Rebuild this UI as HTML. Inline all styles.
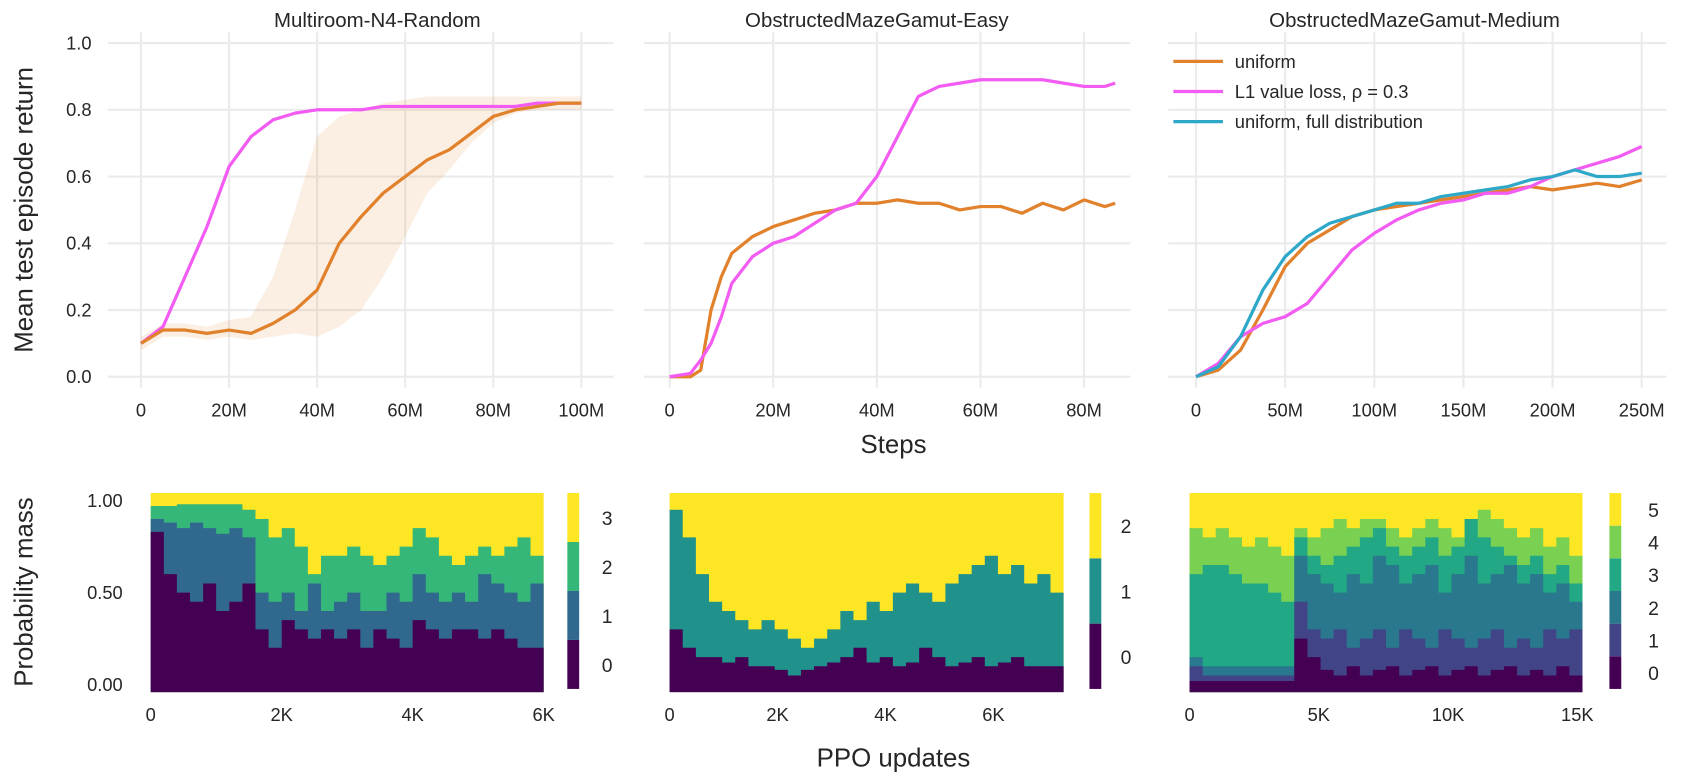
<!DOCTYPE html>
<html><head><meta charset="utf-8"><style>
html,body{margin:0;padding:0;background:#fff}
svg{display:block;font-family:"Liberation Sans",Arial,sans-serif}
</style></head><body>
<svg id="fig" width="1688" height="780" viewBox="0 0 1568 724.6" preserveAspectRatio="none" xmlns="http://www.w3.org/2000/svg"></svg>
<script>
// ---- Top row data ----
const p1X=[0,5,10,15,20,25,30,35,40,45,50,55,60,65,70,75,80,85,90,95,100];
const p1Uniform=[0.1,0.14,0.14,0.13,0.14,0.13,0.16,0.2,0.26,0.4,0.48,0.55,0.6,0.65,0.68,0.73,0.78,0.8,0.81,0.82,0.82];
const p1UniformLo=[0.08,0.12,0.12,0.11,0.12,0.11,0.12,0.13,0.12,0.15,0.2,0.3,0.42,0.55,0.62,0.7,0.76,0.79,0.8,0.8,0.8];
const p1UniformHi=[0.12,0.16,0.16,0.15,0.17,0.18,0.3,0.5,0.72,0.78,0.8,0.82,0.83,0.84,0.84,0.84,0.84,0.84,0.84,0.84,0.84];
const p1L1=[0.1,0.15,0.3,0.45,0.63,0.72,0.77,0.79,0.8,0.8,0.8,0.81,0.81,0.81,0.81,0.81,0.81,0.81,0.82,0.82,0.82];
const p1Ticks=["0","20M","40M","60M","80M","100M"];
const p2X=[0,4,6,8,10,12,16,20,24,28,32,36,40,44,48,52,56,60,64,68,72,76,80,84,86];
const p2Uniform=[0,0,0.02,0.2,0.3,0.37,0.42,0.45,0.47,0.49,0.5,0.52,0.52,0.53,0.52,0.52,0.5,0.51,0.51,0.49,0.52,0.5,0.53,0.51,0.52];
const p2L1=[0,0.01,0.05,0.1,0.18,0.28,0.36,0.4,0.42,0.46,0.5,0.52,0.6,0.72,0.84,0.87,0.88,0.89,0.89,0.89,0.89,0.88,0.87,0.87,0.88];
const p2Ticks=["0","20M","40M","60M","80M"];
const p3X=[0,12.5,25,37.5,50,62.5,75,87.5,100,112.5,125,137.5,150,162.5,175,187.5,200,212.5,225,237.5,250];
const p3Uniform=[0,0.02,0.08,0.2,0.33,0.4,0.44,0.48,0.5,0.51,0.52,0.53,0.54,0.55,0.56,0.57,0.56,0.57,0.58,0.57,0.59];
const p3L1=[0,0.04,0.12,0.16,0.18,0.22,0.3,0.38,0.43,0.47,0.5,0.52,0.53,0.55,0.55,0.57,0.6,0.62,0.64,0.66,0.69];
const p3Full=[0,0.03,0.12,0.26,0.36,0.42,0.46,0.48,0.5,0.52,0.52,0.54,0.55,0.56,0.57,0.59,0.6,0.62,0.6,0.6,0.61];
const p3Ticks=["0","50M","100M","150M","200M","250M"];
const yTicks=["0.0","0.2","0.4","0.6","0.8","1.0"];
// ---- Bottom row data (cumulative boundaries) ----
const b1C0=[0.83,0.6,0.5,0.45,0.55,0.4,0.45,0.55,0.3,0.2,0.35,0.3,0.25,0.3,0.25,0.3,0.2,0.3,0.25,0.2,0.35,0.3,0.25,0.3,0.3,0.25,0.3,0.25,0.2,0.2];
const b1C1=[0.9,0.88,0.85,0.88,0.85,0.82,0.85,0.8,0.5,0.45,0.5,0.4,0.55,0.4,0.45,0.5,0.4,0.4,0.5,0.45,0.6,0.5,0.45,0.5,0.45,0.6,0.55,0.5,0.45,0.55];
const b1C2=[0.97,0.97,0.98,0.98,0.98,0.98,0.98,0.95,0.9,0.8,0.85,0.75,0.6,0.7,0.7,0.75,0.7,0.65,0.7,0.75,0.85,0.8,0.7,0.65,0.7,0.75,0.7,0.75,0.8,0.7];
const b2C0=[0.3,0.2,0.15,0.15,0.12,0.15,0.1,0.1,0.08,0.05,0.08,0.1,0.12,0.15,0.2,0.12,0.15,0.1,0.12,0.2,0.15,0.1,0.12,0.15,0.1,0.12,0.15,0.1,0.1,0.1];
const b2C1=[0.95,0.8,0.6,0.45,0.4,0.35,0.3,0.35,0.3,0.25,0.2,0.25,0.3,0.4,0.35,0.45,0.4,0.5,0.55,0.5,0.45,0.55,0.6,0.65,0.7,0.6,0.65,0.55,0.6,0.5];
const b3C0=[0.02,0.02,0.02,0.02,0.02,0.02,0.02,0.02,0.25,0.15,0.08,0.05,0.1,0.05,0.08,0.1,0.05,0.08,0.1,0.05,0.08,0.1,0.05,0.08,0.1,0.05,0.08,0.05,0.1,0.05];
const b3C1=[0.1,0.05,0.05,0.05,0.05,0.05,0.05,0.05,0.45,0.3,0.25,0.3,0.2,0.25,0.3,0.2,0.3,0.25,0.2,0.3,0.25,0.2,0.25,0.3,0.2,0.25,0.2,0.3,0.25,0.3];
const b3C2=[0.15,0.1,0.1,0.1,0.1,0.1,0.1,0.1,0.7,0.6,0.55,0.5,0.6,0.55,0.7,0.65,0.55,0.6,0.65,0.5,0.6,0.7,0.55,0.6,0.65,0.55,0.6,0.5,0.55,0.45];
const b3C3=[0.6,0.65,0.65,0.6,0.55,0.55,0.5,0.45,0.8,0.7,0.65,0.7,0.75,0.8,0.85,0.75,0.7,0.75,0.8,0.7,0.75,0.9,0.8,0.75,0.7,0.65,0.7,0.6,0.65,0.55];
const b3C4=[0.85,0.8,0.85,0.8,0.75,0.8,0.75,0.7,0.85,0.8,0.85,0.9,0.85,0.9,0.9,0.85,0.8,0.85,0.9,0.85,0.8,0.9,0.95,0.9,0.85,0.8,0.85,0.75,0.8,0.7];

const NS="http://www.w3.org/2000/svg";
const svg=document.getElementById('fig');
function mk(tag,attrs,parent){const e=document.createElementNS(NS,tag);for(const k in attrs)e.setAttribute(k,attrs[k]);(parent||svg).appendChild(e);return e;}
function txt(s,x,y,size,anchor,parent,rot){const t=mk('text',{x:x,y:y,'font-size':size,fill:'#262626','text-anchor':anchor||'middle'},parent);if(rot)t.setAttribute('transform','rotate(-90 '+x+' '+y+')');t.textContent=s;return t;}
const OR='#e1812c',MG='#f25cf2',CY='#2ea8c8';

// ---- Top panels ----
const tops=[
 {x0:131,x1:540,max:100,title:"Multiroom-N4-Random",gl:100,gr:570,ticks:p1Ticks,tstep:20},
 {x0:622,x1:1007,max:80,title:"ObstructedMazeGamut-Easy",gl:598,gr:1050,ticks:p2Ticks,tstep:20},
 {x0:1111,x1:1525,max:250,title:"ObstructedMazeGamut-Medium",gl:1085,gr:1548,ticks:p3Ticks,tstep:50}];
function ty(v){return 350-310*v;}
tops.forEach((p,i)=>{
 const g=mk('g',{});
 
 
 const sx=v=>p.x0+(p.x1-p.x0)*v/p.max;
 yTicks.forEach((t,k)=>{const y=ty(k*0.2);const l=mk('line',{x1:p.gl,x2:p.gr,y1:y,y2:y,stroke:'#ebebeb','stroke-width':2},g);});
 p.ticks.forEach((t,k)=>{const x=sx(k*p.tstep);const l=mk('line',{x1:x,x2:x,y1:30,y2:360,stroke:'#ebebeb','stroke-width':2},g);
  const tt=txt(t,x,387,17,'middle',g);});
 if(i==0){yTicks.forEach((t,k)=>{const tt=txt(t,85,ty(k*0.2)+6,17,'end',g);});}
 const ti=txt(p.title,(p.x0+p.x1)/2+(i==0?15:i==2?-4:0),25,19,'middle',g);
 const line=(xs,ys,c,nm)=>{const d=xs.map((x,k)=>(k?'L':'M')+sx(x).toFixed(1)+','+ty(ys[k]).toFixed(1)).join('');const e=mk('path',{d:d,fill:'none',stroke:c,'stroke-width':3,'stroke-linejoin':'round'},g);};
 const band=(xs,lo,hi,c,nm)=>{let d=xs.map((x,k)=>(k?'L':'M')+sx(x)+','+ty(hi[k])).join('');for(let k=xs.length-1;k>=0;k--)d+='L'+sx(xs[k])+','+ty(lo[k]);const e=mk('path',{d:d+'Z',fill:c,opacity:0.13},g);};
 if(i==0){band(p1X,p1UniformLo,p1UniformHi,OR,'uniform-band');line(p1X,p1L1,MG,'l1-line');line(p1X,p1Uniform,OR,'uniform-line');}
 if(i==1){line(p2X,p2Uniform,OR,'uniform-line');line(p2X,p2L1,MG,'l1-line');}
 if(i==2){line(p3X,p3Uniform,OR,'uniform-line');line(p3X,p3L1,MG,'l1-line');line(p3X,p3Full,CY,'full-distribution-line');}
});
let t=txt("Mean test episode return",30,195,24,'middle',svg,true);
t=txt("Steps",830,421,24);
// legend
const leg=mk('g',{});
[["uniform",OR],["L1 value loss, \u03C1 = 0.3",MG],["uniform, full distribution",CY]].forEach((e,k)=>{
 const y=57+k*28;const l=mk('line',{x1:1090,x2:1136,y1:y,y2:y,stroke:e[1],'stroke-width':3},leg);
 const tt=txt(e[0],1147,y+6,17,'start',leg);});

// ---- Bottom panels ----
const V4=['#440154','#31688e','#35b779','#fde725'],V3=['#440154','#21918c','#fde725'],V6=['#440154','#414487','#2a788e','#22a884','#7ad151','#fde725'];
const bots=[
 {x0:140,x1:505,bounds:[b1C0,b1C1,b1C2],cols:V4,cb:527,max:6.0,ticks:["0","2K","4K","6K"],tstep:2,lblx:564},
 {x0:622,x1:988,bounds:[b2C0,b2C1],cols:V3,cb:1012,max:7.3,ticks:["0","2K","4K","6K"],tstep:2,lblx:1046},
 {x0:1105,x1:1470,bounds:[b3C0,b3C1,b3C2,b3C3,b3C4],cols:V6,cb:1495,max:15.2,ticks:["0","5K","10K","15K"],tstep:5,lblx:1536}];
const BT=458,BB=643;
const by=v=>BB-7-(BB-BT-14)*v;
bots.forEach((p,i)=>{
 const g=mk('g',{});
 
 
 const n=p.bounds[0].length,w=(p.x1-p.x0)/n;
 const r=mk('rect',{x:p.x0,y:BT,width:p.x1-p.x0,height:BB-BT,fill:p.cols[p.cols.length-1]},g);
 for(let c=p.bounds.length-1;c>=0;c--){
  const b=p.bounds[c];let d='M'+p.x0+','+BB;
  for(let k=0;k<n;k++){const y=by(b[k]);d+='L'+(p.x0+k*w).toFixed(1)+','+y.toFixed(1)+'L'+(p.x0+(k+1)*w).toFixed(1)+','+y.toFixed(1);}
  d+='L'+p.x1+','+BB+'Z';
  const e=mk('path',{d:d,fill:p.cols[c]},g);
 }
 const m=p.cols.length,sh=(640-BT)/m;
 p.cols.forEach((c,k)=>{const y=640-(k+1)*sh;const rr=mk('rect',{x:p.cb,y:y,width:11,height:sh,fill:c},g);
  const tt=txt(String(k),p.lblx,y+sh/2+7,18,'middle',g);});
 p.ticks.forEach((s,k)=>{const x=p.x0+(p.x1-p.x0)*(k*p.tstep)/p.max;const tt=txt(s,x,670,17,'middle',g);});
 if(i==0){[["1.00",1],["0.50",0.5],["0.00",0]].forEach(e=>{const tt=txt(e[0],114,by(e[1])+6,17,'end',g);});}
});
t=txt("Probability mass",30,550,24,'middle',svg,true);
t=txt("PPO updates",830,712,24);
</script>
</body></html>
